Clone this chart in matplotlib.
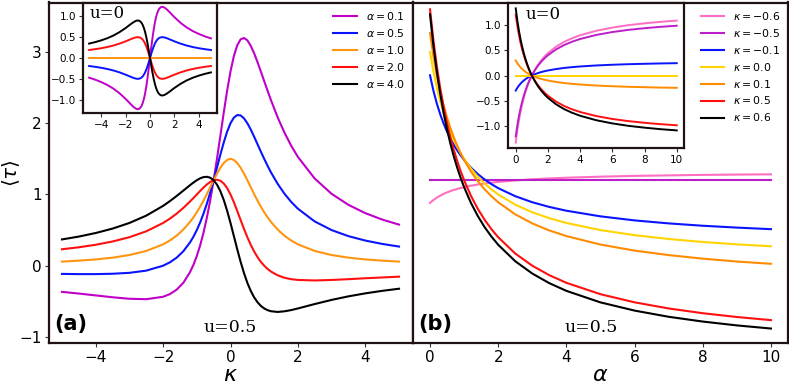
import matplotlib
matplotlib.use("Agg")
import matplotlib.pyplot as plt

# ---------------- data: panel (a), tau vs kappa ----------------
kappa = [-5, -4.5, -4, -3.5, -3, -2.5, -2, -1.8, -1.6, -1.4, -1.2,
         -1.1, -1.0, -0.9, -0.8, -0.7, -0.6, -0.5, -0.4, -0.3, -0.2, -0.1,
         0,
         0.1, 0.2, 0.3, 0.4, 0.5, 0.6, 0.7, 0.8, 0.9, 1.0, 1.1,
         1.2, 1.4, 1.6, 1.8, 2, 2.5, 3, 3.5, 4, 4.5, 5]
alpha_labels = [r"$\alpha = 0.1$", r"$\alpha = 0.5$", r"$\alpha = 1.0$",
                r"$\alpha = 2.0$", r"$\alpha = 4.0$"]
alpha_colors = ["#c000c8", "#0a14ff", "#ff9410", "#ff1010", "#000000"]

tau_a01 = [-0.367, -0.391, -0.417, -0.443, -0.464, -0.470, -0.436, -0.399, -0.337, -0.240, -0.089,
           0.012, 0.136, 0.286, 0.466, 0.677, 0.922, 1.200, 1.505, 1.827, 2.150, 2.457,
           2.727,
           2.943, 3.094, 3.178, 3.197, 3.164, 3.088, 2.984, 2.860, 2.727, 2.591, 2.456,
           2.325, 2.082, 1.869, 1.685, 1.527, 1.223, 1.009, 0.854, 0.738, 0.648, 0.577]
tau_a05 = [-0.115, -0.118, -0.118, -0.113, -0.100, -0.069, 0.000, 0.047, 0.112, 0.203, 0.328,
           0.407, 0.500, 0.608, 0.732, 0.872, 1.029, 1.200, 1.379, 1.560, 1.731, 1.881,
           2.000,
           2.079, 2.115, 2.110, 2.069, 2.000, 1.912, 1.812, 1.707, 1.602, 1.500, 1.403,
           1.311, 1.149, 1.011, 0.896, 0.800, 0.621, 0.500, 0.415, 0.353, 0.306, 0.269]
tau_a10 = [0.058, 0.071, 0.088, 0.113, 0.150, 0.207, 0.300, 0.354, 0.421, 0.507, 0.615,
           0.679, 0.750, 0.829, 0.915, 1.007, 1.103, 1.200, 1.293, 1.376, 1.442, 1.485,
           1.500,
           1.485, 1.442, 1.376, 1.293, 1.200, 1.103, 1.007, 0.915, 0.829, 0.750, 0.679,
           0.615, 0.507, 0.421, 0.354, 0.300, 0.207, 0.150, 0.113, 0.088, 0.071, 0.058]
tau_a20 = [0.231, 0.259, 0.294, 0.340, 0.400, 0.483, 0.600, 0.660, 0.730, 0.811, 0.902,
           0.950, 1.000, 1.050, 1.098, 1.141, 1.176, 1.200, 1.207, 1.193, 1.154, 1.089,
           1.000,
           0.891, 0.769, 0.642, 0.517, 0.400, 0.294, 0.201, 0.122, 0.055, 0.000, -0.045,
           -0.082, -0.135, -0.169, -0.189, -0.200, -0.207, -0.200, -0.189, -0.176, -0.165, -0.154]
tau_a40 = [0.369, 0.409, 0.459, 0.521, 0.600, 0.703, 0.840, 0.906, 0.978, 1.054, 1.131,
           1.167, 1.200, 1.227, 1.244, 1.248, 1.235, 1.200, 1.138, 1.046, 0.923, 0.772,
           0.600,
           0.416, 0.231, 0.055, -0.103, -0.240, -0.353, -0.443, -0.512, -0.564, -0.600, -0.624,
           -0.639, -0.649, -0.640, -0.623, -0.600, -0.538, -0.480, -0.430, -0.388, -0.353, -0.323]

# inset (a), u = 0
ins_a01 = [-0.472, -0.520, -0.578, -0.648, -0.736, -0.846, -0.982, -1.042, -1.103, -1.161, -1.207,
           -1.222, -1.227, -1.220, -1.197, -1.153, -1.083, -0.982, -0.846, -0.676, -0.472, -0.243,
           0.0,
           0.243, 0.472, 0.676, 0.846, 0.982, 1.083, 1.153, 1.197, 1.220, 1.227, 1.222,
           1.207, 1.161, 1.103, 1.042, 0.982, 0.846, 0.736, 0.648, 0.578, 0.520, 0.472]
ins_a05 = [-0.192, -0.212, -0.235, -0.264, -0.300, -0.345, -0.400, -0.425, -0.449, -0.473, -0.492,
           -0.498, -0.500, -0.497, -0.488, -0.470, -0.441, -0.400, -0.345, -0.275, -0.192, -0.099,
           0.0,
           0.099, 0.192, 0.275, 0.345, 0.400, 0.441, 0.470, 0.488, 0.497, 0.500, 0.498,
           0.492, 0.473, 0.449, 0.425, 0.400, 0.345, 0.300, 0.264, 0.235, 0.212, 0.192]
ins_a10 = [0.0] * 45
ins_a20 = [0.192, 0.212, 0.235, 0.264, 0.300, 0.345, 0.400, 0.425, 0.449, 0.473, 0.492,
           0.498, 0.500, 0.497, 0.488, 0.470, 0.441, 0.400, 0.345, 0.275, 0.192, 0.099,
           0.0,
           -0.099, -0.192, -0.275, -0.345, -0.400, -0.441, -0.470, -0.488, -0.497, -0.500, -0.498,
           -0.492, -0.473, -0.449, -0.425, -0.400, -0.345, -0.300, -0.264, -0.235, -0.212, -0.192]
ins_a40 = [0.346, 0.381, 0.424, 0.475, 0.540, 0.621, 0.720, 0.764, 0.809, 0.851, 0.885,
           0.896, 0.900, 0.895, 0.878, 0.846, 0.794, 0.720, 0.621, 0.495, 0.346, 0.178,
           0.0,
           -0.178, -0.346, -0.495, -0.621, -0.720, -0.794, -0.846, -0.878, -0.895, -0.900, -0.896,
           -0.885, -0.851, -0.809, -0.764, -0.720, -0.621, -0.540, -0.475, -0.424, -0.381, -0.346]

# ---------------- data: panel (b), tau vs alpha ----------------
alpha = [0, 0.1, 0.2, 0.3, 0.4, 0.5, 0.6, 0.7, 0.8, 0.9, 1.0, 1.2, 1.4, 1.6, 1.8,
         2.0, 2.5, 3.0, 3.5, 4.0, 5, 6, 7, 8, 9, 10]
kappa_labels = [r"$\kappa = -0.6$", r"$\kappa = -0.5$", r"$\kappa = -0.1$",
                r"$\kappa = 0.0$", r"$\kappa = 0.1$", r"$\kappa = 0.5$",
                r"$\kappa = 0.6$"]
kappa_colors = ["#ff6ec0", "#bb20c8", "#0a14ff", "#ffd400", "#ff8c00", "#ff1010",
                "#000000"]

tau_km06 = [0.882, 0.922, 0.956, 0.984, 1.008, 1.029, 1.048, 1.064, 1.078, 1.091,
            1.103, 1.123, 1.140, 1.154, 1.166, 1.176, 1.197, 1.213, 1.225, 1.235,
            1.250, 1.261, 1.268, 1.275, 1.279, 1.283]
tau_km05 = [1.2] * 26
tau_km01 = [2.673, 2.457, 2.277, 2.125, 1.994, 1.881, 1.782, 1.695, 1.617, 1.548,
            1.485, 1.377, 1.287, 1.211, 1.146, 1.089, 0.976, 0.891, 0.825, 0.772,
            0.693, 0.636, 0.594, 0.561, 0.535, 0.513]
tau_k00 = [3.000, 2.727, 2.500, 2.308, 2.143, 2.000, 1.875, 1.765, 1.667, 1.579,
           1.500, 1.364, 1.250, 1.154, 1.071, 1.000, 0.857, 0.750, 0.667, 0.600,
           0.500, 0.429, 0.375, 0.333, 0.300, 0.273]
tau_k01 = [3.267, 2.943, 2.673, 2.445, 2.249, 2.079, 1.931, 1.800, 1.683, 1.579,
           1.485, 1.323, 1.188, 1.074, 0.976, 0.891, 0.721, 0.594, 0.495, 0.416,
           0.297, 0.212, 0.149, 0.099, 0.059, 0.027]
tau_k05 = [3.600, 3.164, 2.800, 2.492, 2.229, 2.000, 1.800, 1.624, 1.467, 1.326,
           1.200, 0.982, 0.800, 0.646, 0.514, 0.400, 0.171, 0.000, -0.133, -0.240,
           -0.400, -0.514, -0.600, -0.667, -0.720, -0.764]
tau_k06 = [3.529, 3.088, 2.721, 2.410, 2.143, 1.912, 1.710, 1.531, 1.373, 1.231,
           1.103, 0.882, 0.699, 0.543, 0.410, 0.294, 0.063, -0.110, -0.245, -0.353,
           -0.515, -0.630, -0.717, -0.784, -0.838, -0.882]

# inset (b), u = 0
ins_k06 = [1.324, 1.083, 0.882, 0.713, 0.567, 0.441, 0.331, 0.234, 0.147, 0.070,
           0.0, -0.120, -0.221, -0.305, -0.378, -0.441, -0.567, -0.662, -0.735,
           -0.794, -0.882, -0.945, -0.993, -1.029, -1.059, -1.083]
ins_k05 = [1.200, 0.982, 0.800, 0.646, 0.514, 0.400, 0.300, 0.212, 0.133, 0.063,
           0.0, -0.109, -0.200, -0.277, -0.343, -0.400, -0.514, -0.600, -0.667,
           -0.720, -0.800, -0.857, -0.900, -0.933, -0.960, -0.982]
ins_k01 = [0.297, 0.243, 0.198, 0.160, 0.127, 0.099, 0.074, 0.052, 0.033, 0.016,
           0.0, -0.027, -0.050, -0.069, -0.085, -0.099, -0.127, -0.149, -0.165,
           -0.178, -0.198, -0.212, -0.223, -0.231, -0.238, -0.243]
ins_k00 = [0.0] * 26
ins_km01 = [-0.297, -0.243, -0.198, -0.160, -0.127, -0.099, -0.074, -0.052, -0.033, -0.016,
            0.0, 0.027, 0.050, 0.069, 0.085, 0.099, 0.127, 0.149, 0.165,
            0.178, 0.198, 0.212, 0.223, 0.231, 0.238, 0.243]
ins_km05 = [-1.200, -0.982, -0.800, -0.646, -0.514, -0.400, -0.300, -0.212, -0.133, -0.063,
            0.0, 0.109, 0.200, 0.277, 0.343, 0.400, 0.514, 0.600, 0.667,
            0.720, 0.800, 0.857, 0.900, 0.933, 0.960, 0.982]
ins_km06 = [-1.324, -1.083, -0.882, -0.713, -0.567, -0.441, -0.331, -0.234, -0.147, -0.070,
            0.0, 0.120, 0.221, 0.305, 0.378, 0.441, 0.567, 0.662, 0.735,
            0.794, 0.882, 0.945, 0.993, 1.029, 1.059, 1.083]

# ---------------- drawing ----------------
SPINE = "#1e1212"
W, H = 789, 384
fig = plt.figure(figsize=(W / 100, H / 100), dpi=100)


def px_axes(x0, y0, x1, y1):
    return fig.add_axes([x0 / W, 1 - y1 / H, (x1 - x0) / W, (y1 - y0) / H])


def style(ax, lw=1.6, fs=11):
    for s in ax.spines.values():
        s.set_color(SPINE)
        s.set_linewidth(lw)
    ax.tick_params(labelsize=fs, length=3, width=0.8, pad=2, color="#333333")


axA = px_axes(48.5, 2.5, 412.5, 343)
axB = px_axes(413.3, 2.5, 788, 343)
for ax in (axA, axB):
    style(ax)
    ax.set_ylim(-1.085, 3.695)

a_series = [tau_a01, tau_a05, tau_a10, tau_a20, tau_a40]
for ys, c, lab in zip(a_series, alpha_colors, alpha_labels):
    axA.plot(kappa, ys, color=c, lw=1.5, label=lab)
axA.set_xlim(-5.4, 5.4)
axA.set_xticks([-4, -2, 0, 2, 4])
axA.set_yticks([-1, 0, 1, 2, 3])
axA.set_xlabel(r"$\kappa$", fontsize=16, labelpad=0)
axA.set_ylabel(r"$\langle\tau\rangle$", fontsize=14.5)
axA.yaxis.set_label_coords(-0.072, 0.5)
axA.legend(loc="upper right", frameon=False, fontsize=7.8, handlelength=2.2,
           labelspacing=0.45, borderaxespad=0.3)
axA.text(0.017, 0.055, "(a)", transform=axA.transAxes, fontsize=15,
         fontweight="bold", va="center", ha="left")
axA.text(0.5, 0.045, "u=0.5", transform=axA.transAxes, fontsize=12.5,
         family="DejaVu Serif", va="center", ha="center")

b_series = [tau_km06, tau_km05, tau_km01, tau_k00, tau_k01, tau_k05, tau_k06]
for ys, c, lab in zip(b_series, kappa_colors, kappa_labels):
    axB.plot(alpha, ys, color=c, lw=1.5, label=lab)
axB.set_xlim(-0.49, 10.5)
axB.set_xticks([0, 2, 4, 6, 8, 10])
axB.set_yticks([])
axB.set_xlabel(r"$\alpha$", fontsize=16, labelpad=0)
axB.legend(loc="upper right", frameon=False, fontsize=7.8, handlelength=2.2,
           labelspacing=0.45, borderaxespad=0.3)
axB.text(0.012, 0.055, "(b)", transform=axB.transAxes, fontsize=15,
         fontweight="bold", va="center", ha="left")
axB.text(0.475, 0.045, "u=0.5", transform=axB.transAxes, fontsize=12.5,
         family="DejaVu Serif", va="center", ha="center")

# insets
inA = px_axes(83, 3, 217, 113)
style(inA, lw=1.6, fs=7.5)
ia_series = [ins_a01, ins_a05, ins_a10, ins_a20, ins_a40]
for ys, c in zip(ia_series, alpha_colors):
    inA.plot(kappa, ys, color=c, lw=1.4)
inA.set_xlim(-5.5, 5.5)
inA.set_ylim(-1.32, 1.32)
inA.set_xticks([-4, -2, 0, 2, 4])
inA.set_yticks([-1.0, -0.5, 0.0, 0.5, 1.0])
inA.text(0.05, 0.9, "u=0", transform=inA.transAxes, fontsize=12,
         family="DejaVu Serif", va="center", ha="left")

inB = px_axes(508, 3, 684, 148)
style(inB, lw=1.6, fs=7.5)
ib_series = [ins_km06, ins_km05, ins_km01, ins_k00, ins_k01, ins_k05, ins_k06]
for ys, c in zip(ib_series, kappa_colors):
    inB.plot(alpha, ys, color=c, lw=1.4)
inB.set_xlim(-0.48, 10.45)
inB.set_ylim(-1.43, 1.43)
inB.set_xticks([0, 2, 4, 6, 8, 10])
inB.set_yticks([-1.0, -0.5, 0.0, 0.5, 1.0])
inB.text(0.1, 0.92, "u=0", transform=inB.transAxes, fontsize=12,
         family="DejaVu Serif", va="center", ha="left")

fig.savefig("out.png", dpi=100)
